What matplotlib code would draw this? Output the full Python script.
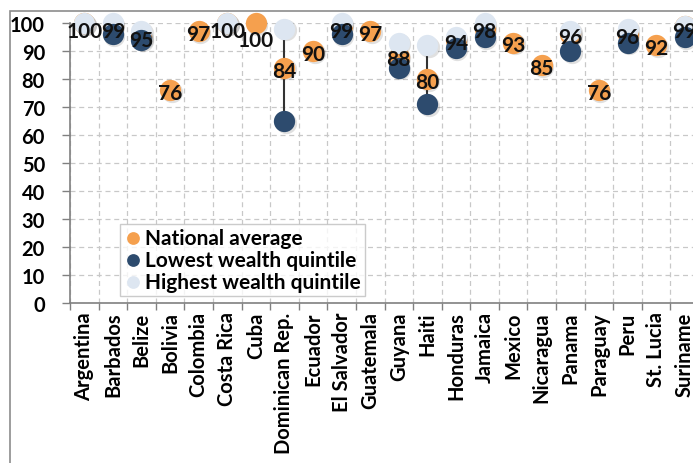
import numpy as np
import matplotlib.pyplot as plt
from matplotlib.patches import Rectangle
from matplotlib.transforms import offset_copy

plt.rcParams['font.family'] = ['Lato', 'DejaVu Sans']
plt.rcParams['font.weight'] = 'bold'

nan = np.nan
countries = ['Argentina', 'Barbados', 'Belize', 'Bolivia', 'Colombia', 'Costa Rica',
             'Cuba', 'Dominican Rep.', 'Ecuador', 'El Salvador', 'Guatemala', 'Guyana',
             'Haiti', 'Honduras', 'Jamaica', 'Mexico', 'Nicaragua', 'Panama',
             'Paraguay', 'Peru', 'St. Lucia', 'Suriname']
national = [100, 99, 95, 76, 97, 100, 100, 84, 90, 99, 97, 88, 80, 94, 98, 93, 85, 96, 76, 96, 92, 99]
lowest = [nan, 96, 94, nan, nan, nan, nan, 65, nan, 96, nan, 84, 71, 91, 95, nan, nan, 90, nan, 93, nan, 95]
highest = [100, 100, 97, nan, nan, 100, nan, 98, nan, 100, nan, 93, 92, 95, 100, nan, nan, 97, nan, 98, nan, 99]
y_ticks = [0, 10, 20, 30, 40, 50, 60, 70, 80, 90, 100]

C_NAT = '#F5A04E'
C_LOW = '#2D4B6E'
C_HIGH = '#DDE6F1'

fig = plt.figure(figsize=(6.93, 4.64), dpi=100)
ax = fig.add_axes([70 / 693, 160 / 464, 629 / 693, 280 / 464])

x = np.arange(len(countries))
nat = np.array(national, dtype=float)
low = np.array(lowest, dtype=float)
high = np.array(highest, dtype=float)

# high-low lines
m = ~np.isnan(low) & ~np.isnan(high)
ax.vlines(x[m], low[m], high[m], color='#333333', lw=1.5, zorder=2, clip_on=False)

size = 235
shadow = offset_copy(ax.transData, fig=fig, x=1.5, y=-1.5, units='dots')
for vals, z in [(nat, 3), (high, 4), (low, 5)]:
    mm = ~np.isnan(vals)
    ax.scatter(x[mm], vals[mm], s=size, color='black', alpha=0.12, lw=0,
               transform=shadow, zorder=z - 0.5, clip_on=False)

ml = ~np.isnan(low)
mh = ~np.isnan(high)
ax.scatter(x, nat, s=size, color=C_NAT, lw=0, zorder=3, clip_on=False, label='National average')
ax.scatter(x[ml], low[ml], s=size, color=C_LOW, lw=0, zorder=5, clip_on=False, label='Lowest wealth quintile')
ax.scatter(x[mh], high[mh], s=size, color=C_HIGH, lw=0, zorder=4, clip_on=False, label='Highest wealth quintile')

# data labels (kept inside the plot area like Excel does)
nudge = {'Cuba': -3}
for i, c in enumerate(countries):
    ly = min(nat[i] - 1, 97) + nudge.get(c, 0)
    ax.text(x[i], ly, f'{national[i]:d}', ha='center', va='center', fontsize=15,
            fontweight='bold', color='#111111', zorder=6)

ax.set_xlim(-0.5, len(countries) - 0.5)
ax.set_ylim(0, 100)
ax.set_yticks(y_ticks)
ax.set_xticks(x)
ax.set_xticklabels(countries, rotation=90, fontsize=14.5, fontweight='bold')
ax.set_xticks(np.arange(len(countries) + 1) - 0.5, minor=True)
ax.tick_params(axis='x', which='major', length=0, pad=6)
ax.tick_params(axis='x', which='minor', length=5, width=1, color='#808080', direction='out')
ax.tick_params(axis='y', length=6, width=1, color='#808080', pad=12, labelsize=14.5)
for lab in ax.get_yticklabels():
    lab.set_fontweight('bold')

ax.grid(True, axis='y', which='major', ls=(0, (4, 3)), color='#c8c8c8', lw=0.9)
ax.grid(True, axis='x', which='minor', ls=(0, (4, 3)), color='#c8c8c8', lw=0.9)
ax.set_axisbelow(True)
for s in ['top', 'right']:
    ax.spines[s].set_visible(False)
for s in ['left', 'bottom']:
    ax.spines[s].set_color('#808080')
    ax.spines[s].set_linewidth(1.2)

leg = ax.legend(loc='lower left', bbox_to_anchor=(0.079, 0.025), fontsize=15,
                frameon=True, fancybox=False, edgecolor='#bfbfbf', borderpad=0.2,
                handletextpad=0.1, labelspacing=0.1, handlelength=0.9,
                borderaxespad=0, markerscale=0.6)
leg.get_frame().set_linewidth(1.0)
leg.set_zorder(7)
for t in leg.get_texts():
    t.set_fontweight('bold')

# outer chart frame (cut off on the right and bottom)
fig.patches.append(Rectangle((10 / 693, -0.1), 1.2, 1 - 12 / 464 + 0.1,
                             transform=fig.transFigure, fill=False,
                             edgecolor='#8c8c8c', lw=1.2))

plt.savefig('out.png', dpi=100)
